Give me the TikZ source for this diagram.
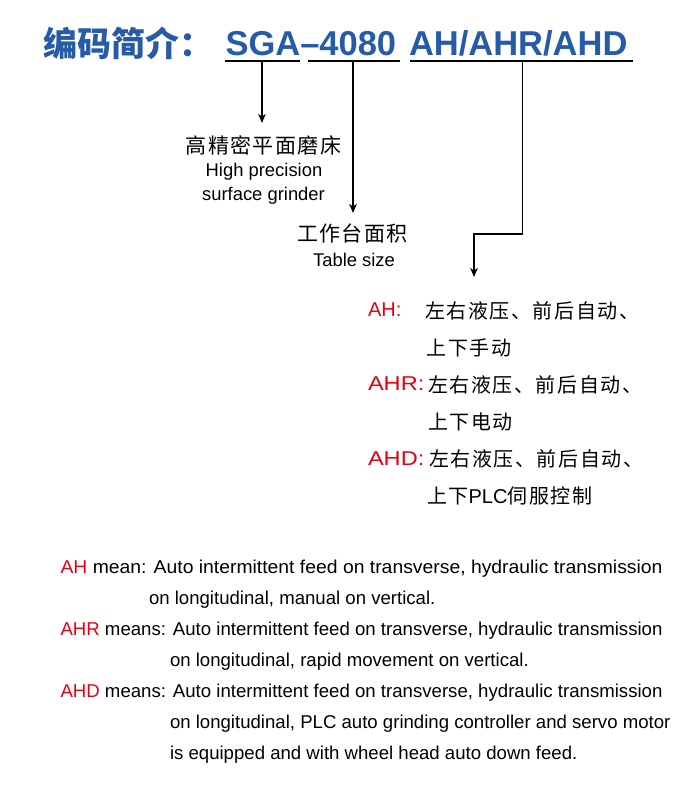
\documentclass[tikz,border=0pt]{standalone}
\usepackage{fontspec}
\setmainfont{Liberation Sans}
\newfontfamily\cjkfont{Noto Sans CJK SC}
\newfontfamily\cjkblack{Noto Sans CJK SC}[UprightFont={* Black}]
\newfontfamily\cjklsa[LetterSpace=7]{Noto Sans CJK SC}
\newfontfamily\cjklsb[LetterSpace=8]{Noto Sans CJK SC}
\usetikzlibrary{arrows.meta}
\definecolor{titleblue}{RGB}{38,91,168}
\definecolor{codered}{RGB}{230,0,18}
\tikzset{
  arr/.style={line width=1.8pt, line join=miter, -{Stealth[length=9pt,width=7.5pt,inset=2.5pt]}},
  uline/.style={line width=2.4pt},
  txt/.style={inner sep=0pt, outer sep=0pt},
  bluetitle/.style={txt, anchor=base west, text=titleblue},
  toplbl/.style={txt, anchor=base, font=\fontsize{21}{21}\cjklsa},
  topen/.style={txt, anchor=base, font=\fontsize{18.4}{18.4}\selectfont},
  redlbl/.style={txt, anchor=base west, text=codered, font=\fontsize{20}{20}\selectfont},
  midcn/.style={txt, anchor=base west, font=\fontsize{20}{20}\cjklsb},
  enline/.style={txt, anchor=base west, font=\fontsize{18.6}{18.6}\selectfont}
}
\begin{document}
\begin{tikzpicture}[x=1pt,y=-1pt]
\useasboundingbox (0,0) rectangle (700,798);
\fill[white] (0,0) rectangle (700,798);

% title
\node[bluetitle, font=\fontsize{34}{34}\cjkblack] (title) at (43,56) {编码简介：};
\node[bluetitle, font=\fontsize{34.5}{34.5}\selectfont\bfseries] (model) at (225.5,55) {SGA–4080};
\node[bluetitle, font=\fontsize{34.5}{34.5}\selectfont\bfseries] (type) at (409,55) {AH/AHR/AHD};

% underlines
\coordinate (u1a) at (225,61);
\coordinate (u1b) at (300,61);
\coordinate (u2a) at (308,61);
\coordinate (u2b) at (400,61);
\coordinate (u3a) at (410,61);
\coordinate (u3b) at (633,61);
\draw[uline] (u1a) -- (u1b);
\draw[uline] (u2a) -- (u2b);
\draw[uline] (u3a) -- (u3b);

% labels
\node[toplbl] (grinder) at (263.5,153.5) {高精密平面磨床};
\node[topen] (grinderen1) at (264,176) {High precision};
\node[topen] (grinderen2) at (263.5,200) {surface grinder};
\node[toplbl] (table) at (352.5,241.5) {工作台面积};
\node[topen] (tableen) at (354,266) {Table size};

% connectors
\coordinate (s1) at (262,61);
\coordinate (e1) at (262,123);
\coordinate (s2) at (353,61);
\coordinate (e2) at (353,213);
\coordinate (s3) at (522.5,61);
\coordinate (k3) at (474,234);
\coordinate (e3) at (474,277);
\draw[arr] (s1) -- (e1);
\draw[arr] (s2) -- (e2);
\draw[arr] (s3) |- (k3) -- (e3);

% type explanations (Chinese)
\node[redlbl] (ah) at (368,316.5) {AH:};
\node[midcn] (ah1) at (425,318) {左右液压、前后自动、};
\node[midcn] (ah2) at (426.5,355) {上下手动};
\node[redlbl] (ahr) at (368,390.5) {\scalebox{1.18}[1]{AHR:}};
\node[midcn] (ahr1) at (428,392) {左右液压、前后自动、};
\node[midcn] (ahr2) at (428,429) {上下电动};
\node[redlbl] (ahd) at (368,465) {\scalebox{1.18}[1]{AHD:}};
\node[midcn] (ahd1) at (429,466.5) {左右液压、前后自动、};
\node[midcn] (ahd2) at (427,503) {上下{\fontsize{20}{20}\rmfamily PLC}伺服控制};

% English explanations
\node[enline] (en1) at (60.5,573.5) {\resizebox{602pt}{\height}{\textcolor{codered}{AH} mean: Auto intermittent feed on transverse, hydraulic transmission}};
\node[enline] (en2) at (149,604.5) {on longitudinal, manual on vertical.};
\node[enline] (en3) at (60.5,635.5) {\resizebox{602pt}{\height}{\textcolor{codered}{AHR} means: Auto intermittent feed on transverse, hydraulic transmission}};
\node[enline] (en4) at (170,666.5) {on longitudinal, rapid movement on vertical.};
\node[enline] (en5) at (60.5,697.7) {\resizebox{602pt}{\height}{\textcolor{codered}{AHD} means: Auto intermittent feed on transverse, hydraulic transmission}};
\node[enline] (en6) at (170,728.8) {on longitudinal, PLC auto grinding controller and servo motor};
\node[enline] (en7) at (170,759.8) {is equipped and with wheel head auto down feed.};
\end{tikzpicture}
\end{document}
